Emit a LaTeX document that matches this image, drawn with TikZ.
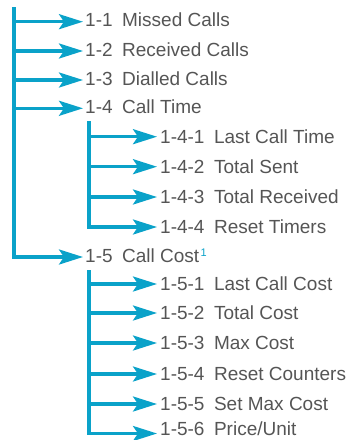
\documentclass[tikz,border=0pt]{standalone}
\usepackage{fontspec}
\setmainfont{Liberation Sans}
\usetikzlibrary{arrows.meta}
\definecolor{lc}{HTML}{0AA2C9}
\definecolor{tc}{HTML}{555555}
\begin{document}
\begin{tikzpicture}[x=1pt,y=-1pt,
  conn/.style={draw=lc, line width=3.2pt, -{Stealth[length=24pt,width=15pt,inset=5pt]}},
  lbl/.style={anchor=base west, inner sep=0pt, text=tc, font=\fontsize{19}{20}\selectfont},
  sup/.style={anchor=base west, inner sep=0pt, text=lc, font=\fontsize{11}{12}\selectfont}]
\useasboundingbox (0,0) rectangle (349,440);
% level 1 labels
\node[lbl] (n11) at (85,26.7) {1-1\hspace{0.5em}Missed Calls};
\node[lbl] (n12) at (85,56) {1-2\hspace{0.5em}Received Calls};
\node[lbl] (n13) at (85,85) {1-3\hspace{0.5em}Dialled Calls};
\node[lbl] (n14) at (85,113.3) {1-4\hspace{0.5em}Call Time};
\node[lbl] (n15) at (85,262) {1-5\hspace{0.5em}Call Cost};
\node[sup] (s15) at ([xshift=1pt,yshift=6pt]n15.base east) {1};
% level 2 labels, 1-4
\node[lbl] (n141) at (160,143.2) {1-4-1\hspace{0.5em}Last Call Time};
\node[lbl] (n142) at (160,173.2) {1-4-2\hspace{0.5em}Total Sent};
\node[lbl] (n143) at (160,203.5) {1-4-3\hspace{0.5em}Total Received};
\node[lbl] (n144) at (160,233.5) {1-4-4\hspace{0.5em}Reset Timers};
% level 2 labels, 1-5
\node[lbl] (n151) at (160,290.5) {1-5-1\hspace{0.5em}Last Call Cost};
\node[lbl] (n152) at (160,319.5) {1-5-2\hspace{0.5em}Total Cost};
\node[lbl] (n153) at (160,349.5) {1-5-3\hspace{0.5em}Max Cost};
\node[lbl] (n154) at (160,380.5) {1-5-4\hspace{0.5em}Reset Counters};
\node[lbl] (n155) at (160,410.5) {1-5-5\hspace{0.5em}Set Max Cost};
\node[lbl] (n156) at (160,435.5) {1-5-6\hspace{0.5em}Price/Unit};
% arrow end points
\foreach \n in {11,12,13,14,15}{
  \coordinate (e\n) at ([xshift=-2pt,yshift=5pt]n\n.base west);}
\foreach \n in {141,142,143,144,151,152,153,154,155}{
  \coordinate (e\n) at ([xshift=-3pt,yshift=6.5pt]n\n.base west);}
\coordinate (e156) at ([xshift=-3pt,yshift=2pt]n156.base west);
% trunks
\coordinate (tA) at (14,7);
\coordinate (tB) at (89,121);
\coordinate (tC) at (89,270);
\draw[conn] (tA) |- (e15);
\foreach \n in {11,12,13,14}{\draw[conn] (e\n -| tA) -- (e\n);}
\draw[conn] (tB) |- (e144);
\foreach \n in {141,142,143}{\draw[conn] (e\n -| tB) -- (e\n);}
\draw[conn] (tC) |- (e156);
\foreach \n in {151,152,153,154,155}{\draw[conn] (e\n -| tC) -- (e\n);}
\end{tikzpicture}
\end{document}
